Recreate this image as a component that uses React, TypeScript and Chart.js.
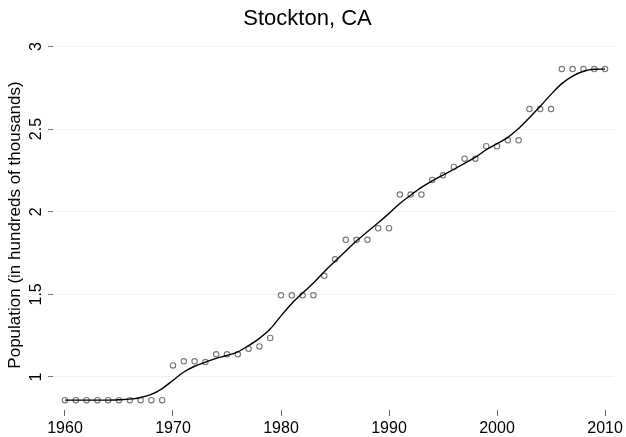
import React, { useEffect, useRef } from "react";
import { Chart, registerables } from "chart.js";

Chart.register(...registerables);

const years: number[] = [
  1960, 1961, 1962, 1963, 1964, 1965, 1966, 1967, 1968, 1969,
  1970, 1971, 1972, 1973, 1974, 1975, 1976, 1977, 1978, 1979,
  1980, 1981, 1982, 1983, 1984, 1985, 1986, 1987, 1988, 1989,
  1990, 1991, 1992, 1993, 1994, 1995, 1996, 1997, 1998, 1999,
  2000, 2001, 2002, 2003, 2004, 2005, 2006, 2007, 2008, 2009, 2010,
];

const population: number[] = [
  0.86, 0.86, 0.86, 0.86, 0.86, 0.86, 0.86, 0.86, 0.86, 0.86,
  1.07, 1.095, 1.095, 1.09, 1.137, 1.137, 1.137, 1.171, 1.185, 1.236,
  1.494, 1.494, 1.494, 1.494, 1.612, 1.712, 1.83, 1.83, 1.83, 1.9,
  1.9, 2.104, 2.104, 2.104, 2.192, 2.22, 2.271, 2.321, 2.321, 2.396,
  2.396, 2.432, 2.432, 2.621, 2.621, 2.621, 2.863, 2.863, 2.863, 2.863, 2.863,
];

const smoothed: number[] = [
  0.86, 0.86, 0.86, 0.86, 0.86, 0.862, 0.866, 0.876, 0.895, 0.93,
  0.98, 1.03, 1.065, 1.09, 1.113, 1.13, 1.152, 1.19, 1.234, 1.29,
  1.37, 1.445, 1.508, 1.568, 1.637, 1.7, 1.762, 1.824, 1.879, 1.933,
  1.99, 2.05, 2.1, 2.147, 2.187, 2.222, 2.257, 2.293, 2.33, 2.375,
  2.412, 2.45, 2.503, 2.569, 2.638, 2.71, 2.775, 2.82, 2.85, 2.862, 2.863,
];

const xTicks: number[] = [1960, 1970, 1980, 1990, 2000, 2010];
const yTicks: number[] = [1, 1.5, 2, 2.5, 3];

const FONT = "'Liberation Sans', Arial, Helvetica, sans-serif";

const yLabelPlugin = {
  id: "rotatedYLabels",
  afterDraw(chart: any) {
    const scale = chart.scales.y;
    const ctx = chart.ctx;
    ctx.save();
    ctx.fillStyle = "#000";
    ctx.font = `16px ${FONT}`;
    ctx.textAlign = "center";
    ctx.textBaseline = "middle";
    for (const v of yTicks) {
      const y = scale.getPixelForValue(v);
      ctx.save();
      ctx.translate(37, y);
      ctx.rotate(-Math.PI / 2);
      ctx.fillText(String(v), 0, 0);
      ctx.restore();
    }
    ctx.restore();
  },
};

export default function App() {
  const ref = useRef<HTMLCanvasElement | null>(null);

  useEffect(() => {
    if (!ref.current) return;
    const chart = new Chart(ref.current, {
      type: "scatter",
      data: {
        datasets: [
          {
            label: "Smoothed",
            data: years.map((x, i) => ({ x, y: smoothed[i] })),
            showLine: true,
            borderColor: "#000",
            borderWidth: 1.4,
            pointRadius: 0,
            cubicInterpolationMode: "monotone",
            order: 0,
          },
          {
            label: "Population",
            data: years.map((x, i) => ({ x, y: population[i] })),
            showLine: false,
            borderColor: "#777",
            backgroundColor: "rgba(0,0,0,0)",
            borderWidth: 1.1,
            pointRadius: 2.7,
            order: 1,
          },
        ],
      },
      options: {
        responsive: false,
        animation: false,
        devicePixelRatio: 1,
        layout: { padding: { left: 0, right: 11, top: 0, bottom: 0 } },
        plugins: {
          legend: { display: false },
          tooltip: { enabled: false },
          title: {
            display: true,
            text: "Stockton, CA",
            color: "#000",
            font: { family: FONT, size: 22, weight: "normal", lineHeight: 1.2 },
            padding: { top: 6, bottom: 7.6 },
          },
        },
        scales: {
          x: {
            type: "linear",
            min: 1958.89,
            max: 2010.83,
            afterFit: (s: any) => {
              s.height = 27;
            },
            afterBuildTicks: (s: any) => {
              s.ticks = xTicks.map((v) => ({ value: v }));
            },
            grid: {
              drawOnChartArea: false,
              drawTicks: true,
              tickLength: 6,
              tickColor: "#666",
            },
            border: { display: false },
            ticks: {
              color: "#000",
              font: { family: FONT, size: 16 },
              padding: 3,
              maxRotation: 0,
              callback: (v: any) => String(v),
            },
          },
          y: {
            type: "linear",
            min: 0.8003,
            max: 3.039,
            afterFit: (s: any) => {
              s.width = 53;
            },
            afterBuildTicks: (s: any) => {
              s.ticks = yTicks.map((v) => ({ value: v }));
            },
            grid: {
              color: "#eaf2f3",
              lineWidth: 1,
              drawTicks: true,
              tickLength: 5,
              tickColor: "#777",
            },
            border: { display: false },
            ticks: { display: false },
            title: {
              display: true,
              text: "Population (in hundreds of thousands)",
              color: "#000",
              font: { family: FONT, size: 17, lineHeight: 1.2 },
              padding: { top: 5, bottom: 0 },
            },
          },
        },
      },
      plugins: [yLabelPlugin],
    } as any);
    return () => chart.destroy();
  }, []);

  return (
    <div style={{ position: "absolute", left: 0, top: 0, width: 626, height: 437, background: "#fff" }}>
      <canvas ref={ref} width={626} height={437} style={{ display: "block" }} />
    </div>
  );
}
